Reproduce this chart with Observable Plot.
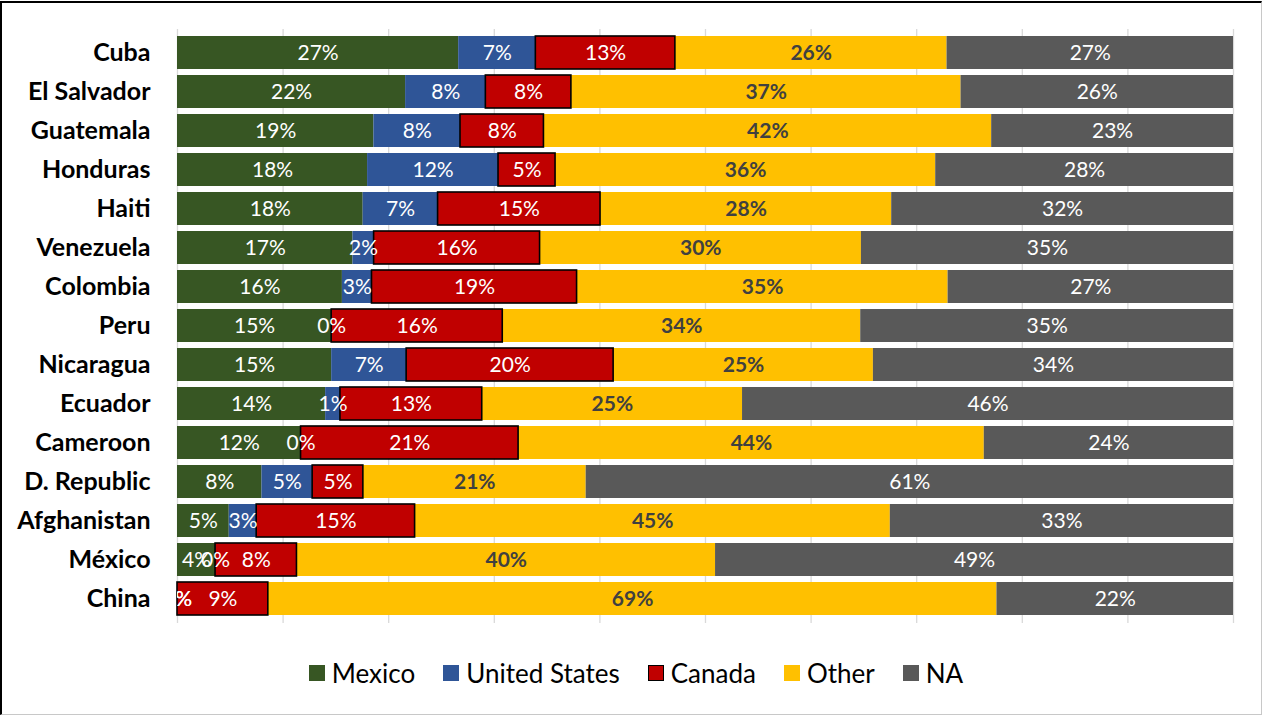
<!DOCTYPE html>
<html><head><meta charset="utf-8">
<script src="https://cdn.jsdelivr.net/npm/d3@7"></script>
<script src="https://cdn.jsdelivr.net/npm/@observablehq/plot@0.6"></script>
<style>
html,body{margin:0;padding:0;background:#fff;}
#wrap{position:relative;width:1262px;height:715px;overflow:hidden;font-family:Lato,sans-serif;background:#fff;}
#frame{position:absolute;left:0;top:1px;width:1262px;height:714px;box-sizing:border-box;border-top:2px solid #000;border-left:2px solid #000;border-right:1px solid #c8c8c8;border-bottom:1px solid #c8c8c8;pointer-events:none;}
#legend{display:flex;justify-content:center;align-items:center;margin-top:32px;padding-left:10px;font-size:26px;color:#000;line-height:30px;}
.item{display:flex;align-items:center;margin:0 14px;}
.sw{width:16px;height:16px;margin-right:7px;box-sizing:border-box;}
</style></head>
<body><div id="wrap"><div id="chart"></div><div id="legend"></div><div id="frame"></div></div>
<script>
const countries = ["Cuba","El Salvador","Guatemala","Honduras","Haiti","Venezuela","Colombia","Peru","Nicaragua","Ecuador","Cameroon","D. Republic","Afghanistan","México","China"];
const sources = ["Mexico","United States","Canada","Other","NA"];
const mexico       = [26.6, 21.6, 18.6, 18.0, 17.6, 16.6, 15.6, 14.6, 14.6, 14.0, 11.7, 8.0, 4.9, 3.6, 0];
const unitedStates = [7.3, 7.6, 8.2, 12.4, 7.1, 2.0, 2.8, 0, 7.1, 1.4, 0, 4.8, 2.6, 0, 0];
const canada       = [13.2, 8.1, 7.9, 5.4, 15.4, 15.7, 19.4, 16.2, 19.6, 13.4, 20.6, 4.8, 15.0, 7.7, 8.6];
const other        = [25.7, 36.9, 42.4, 36.0, 27.6, 30.4, 35.1, 33.9, 24.6, 24.6, 44.1, 21.1, 45.0, 39.6, 69.0];
const na           = [27.1, 25.8, 22.9, 28.2, 32.4, 35.2, 27.0, 35.3, 34.1, 46.4, 23.6, 61.3, 32.5, 49.0, 22.4];
const colors = ["#375623","#2F5597","#C00000","#FFC000","#595959"];

const series = {"Mexico": mexico, "United States": unitedStates, "Canada": canada, "Other": other, "NA": na};
// Canada drawn last so its outline is not covered by neighbours
const drawOrder = ["Mexico","United States","Other","NA","Canada"];
const rows = [];
for (const s of drawOrder) countries.forEach((c, i) => rows.push({country: c, source: s, value: series[s][i]}));
const fmt = v => Math.round(v) + "%";
const stackOpts = {x: "value", y: "country", z: "source", order: sources, offset: "normalize"};

const chart = Plot.plot({
  width: 1262, height: 626,
  marginLeft: 177, marginRight: 29, marginTop: 29, marginBottom: 3,
  style: {fontFamily: "Lato, sans-serif", background: "white", color: "black"},
  x: {domain: [0, 1], axis: null},
  y: {domain: countries, padding: 0.15, axis: null},
  color: {domain: sources, range: colors},
  marks: [
    Plot.gridX({ticks: 10, stroke: "#d9d9d9", strokeOpacity: 1, strokeWidth: 1.3}),
    Plot.barX(rows, Plot.stackX({...stackOpts, fill: "source",
      stroke: d => d.source === "Canada" ? "#000000" : "none", strokeWidth: 1.6})),
    Plot.text(rows, Plot.stackX({...stackOpts, text: d => d.source === "Other" ? "" : fmt(d.value),
      fill: "white", fontSize: 21, clip: true})),
    Plot.text(rows, Plot.stackX({...stackOpts, text: d => d.source === "Other" ? fmt(d.value) : "",
      fill: "#404040", fontSize: 21, fontWeight: "bold"})),
    Plot.axisY({tickSize: 0, tickPadding: 27, fontSize: 25, fontWeight: "bold", label: null})
  ]
});
document.getElementById("chart").appendChild(chart);

const legend = document.getElementById("legend");
sources.forEach((s, i) => {
  const item = document.createElement("div");
  item.className = "item";
  const sw = document.createElement("span");
  sw.className = "sw";
  sw.style.background = colors[i];
  if (s === "Canada") sw.style.border = "1.5px solid #000";
  const t = document.createElement("span");
  t.textContent = s;
  item.appendChild(sw); item.appendChild(t);
  legend.appendChild(item);
});
</script>
</body></html>
